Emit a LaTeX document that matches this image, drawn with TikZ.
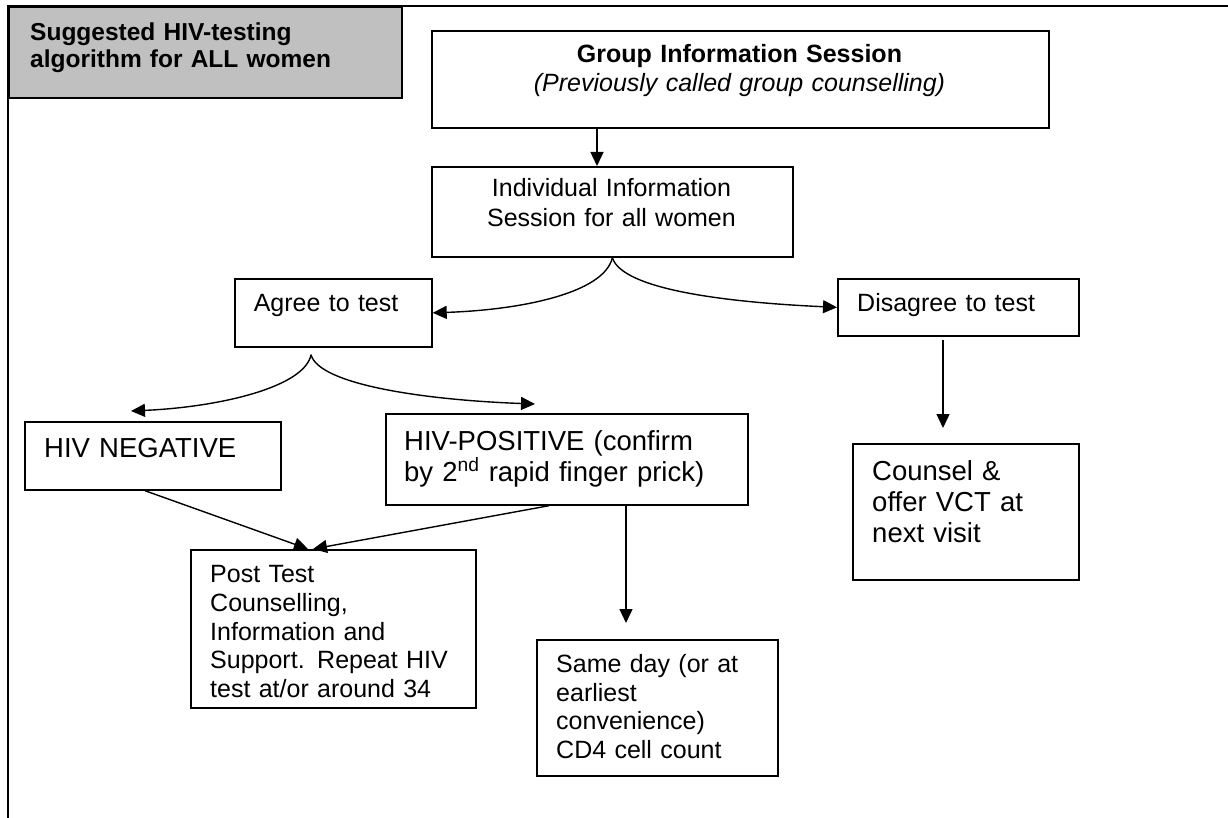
\documentclass[tikz,border=0pt]{standalone}
\usepackage{fontspec}
\setmainfont{Liberation Sans}
\usetikzlibrary{arrows.meta,calc}
\definecolor{headgray}{HTML}{C0C0C0}
\begin{document}
\begin{tikzpicture}[x=1pt,y=-1pt,
  box/.style={draw, line width=1.7pt, rectangle, inner sep=0pt, anchor=north west},
  txt/.style={inner sep=0pt, anchor=base west, align=left, text width=420pt},
  ctxt/.style={inner sep=0pt, anchor=base, align=center, text width=600pt},
  conn/.style={line width=1.4pt, -{Triangle[length=14pt,width=13pt]}},
  fa/.style={font=\fontsize{25}{29}\selectfont},
  fb/.style={font=\fontsize{27.5}{31}\selectfont}
]
\useasboundingbox (0,0) rectangle (1228,818);

% page frame (open at the bottom and right)
\draw[line width=1.8pt] (8,818) -- (8,6) -- (1228,6);

% boxes
\node[box, fill=headgray, minimum width=393pt, minimum height=91pt] (title) at (8,6) {};
\node[box, minimum width=617pt, minimum height=97pt]  (grp)   at (431,30)  {};
\node[box, minimum width=361pt, minimum height=90pt]  (ind)   at (431,166) {};
\node[box, minimum width=197pt, minimum height=68pt]  (agree) at (234,278) {};
\node[box, minimum width=241pt, minimum height=57pt]  (dis)   at (837,278) {};
\node[box, minimum width=256pt, minimum height=68pt]  (neg)   at (24,421)  {};
\node[box, minimum width=362pt, minimum height=91pt]  (pos)   at (385,413) {};
\node[box, minimum width=285pt, minimum height=158pt] (post)  at (190,549) {};
\node[box, minimum width=241pt, minimum height=136pt] (same)  at (536,639) {};
\node[box, minimum width=226pt, minimum height=136pt] (cns)   at (852,443) {};

% texts
\node[txt, font=\fontsize{24.5}{27.3}\selectfont\bfseries] (title-t) at (30,40.7)
  {Suggested HIV-testing\\algorithm for ALL women};
\node[ctxt, fa] (grp-t) at (739.5,63)
  {\textbf{Group Information Session}\\\textit{(Previously called group counselling)}};
\node[ctxt, font=\fontsize{25}{29.5}\selectfont] (ind-t) at (611.5,197)
  {Individual Information\\Session for all women};
\node[txt, fa] (agree-t) at (253.6,311) {Agree to test};
\node[txt, fa] (dis-t) at (857,311.7) {Disagree to test};
\node[txt, fb] (neg-t) at (44,457) {HIV NEGATIVE};
\node[txt, fb] (pos-t) at (404,450)
  {HIV-POSITIVE (confirm\\by 2\textsuperscript{nd} rapid finger prick)};
\node[txt, font=\fontsize{25}{28.75}\selectfont] (post-t) at (210,582.7)
  {Post Test\\Counselling,\\Information and\\Support. Repeat HIV\\test at/or around 34};
\node[txt, font=\fontsize{25}{28.5}\selectfont] (same-t) at (556,672.7)
  {Same day (or at\\earliest\\convenience)\\CD4 cell count};
\node[txt, fb] (cns-t) at (872,480)
  {Counsel \&\\offer VCT at\\next visit};

% branch points and free ends of the curved connectors
\coordinate (agreeApex) at ([xshift=77pt,yshift=-7pt]agree.south west);
\coordinate (negIn) at ([xshift=107pt,yshift=10pt]neg.north west);
\coordinate (posIn) at ([xshift=150pt,yshift=9pt]pos.north west);

% connectors
\draw[conn] ([xshift=166pt]grp.south west) -- ([xshift=166pt]ind.north west);
\draw[conn] (ind.south) .. controls +(-8,35) and +(90,-3) .. (agree.east);
\draw[conn] (ind.south) .. controls +(10,32) and +(-110,-5) .. (dis.west);
\draw[conn] (agreeApex) .. controls +(-6,32) and +(90,-4) .. (negIn);
\draw[conn] (agreeApex) .. controls +(8,30) and +(-110,-4) .. (posIn);
\draw[conn] ([xshift=121pt]neg.south west) -- ([xshift=118pt]post.north west);
\draw[conn] ([xshift=164pt]pos.south west) -- ([xshift=123pt]post.north west);
\draw[conn] ([xshift=241pt]pos.south west) -- ([xshift=90pt,yshift=16pt]same.north west);
\draw[conn] ([xshift=106pt,yshift=-3pt]dis.south west) -- ([xshift=91pt,yshift=15pt]cns.north west);
\end{tikzpicture}
\end{document}
